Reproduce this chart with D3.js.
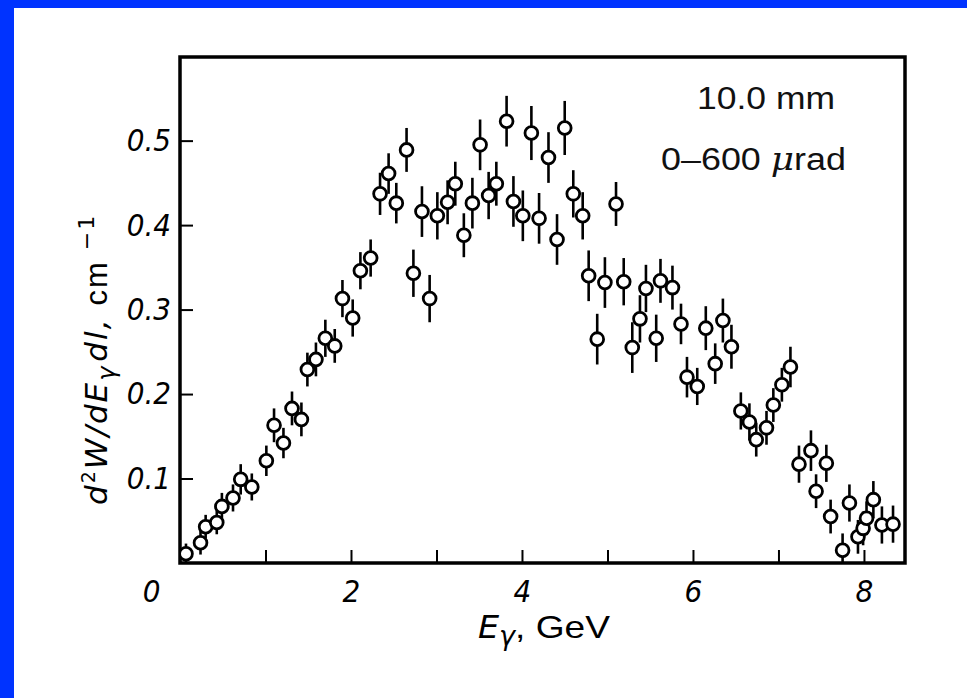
<!DOCTYPE html>
<html>
<head>
<meta charset="utf-8">
<script src="https://cdn.jsdelivr.net/npm/d3@7"></script>
<style>
  body { margin: 0; background: #fff; }
  svg { display: block; }
</style>
</head>
<body>
<svg class="chart" width="967" height="698"></svg>
<script>
// photon energy, GeV
var energy = [0.07,0.24,0.30,0.43,0.49,0.62,0.71,0.84,1.01,1.10,
  1.21,1.31,1.42,1.49,1.59,1.70,1.81,1.90,2.02,2.11,
  2.23,2.34,2.44,2.53,2.65,2.73,2.83,2.92,3.01,3.13,
  3.22,3.32,3.42,3.51,3.61,3.70,3.82,3.90,4.01,4.11,
  4.20,4.31,4.41,4.50,4.60,4.71,4.78,4.88,4.97,5.10,
  5.19,5.29,5.38,5.45,5.57,5.62,5.76,5.86,5.93,6.05,
  6.15,6.26,6.35,6.45,6.56,6.66,6.74,6.86,6.94,7.04,
  7.14,7.24,7.38,7.44,7.56,7.61,7.75,7.83,7.93,7.99,
  8.03,8.11,8.21,8.34];

// d2W/dE dl, cm^-1
var intensity = [0.011,0.024,0.043,0.048,0.067,0.077,0.099,0.090,0.121,0.163,
  0.142,0.183,0.170,0.229,0.241,0.266,0.257,0.313,0.290,0.346,
  0.361,0.437,0.461,0.426,0.489,0.343,0.416,0.313,0.411,0.427,
  0.449,0.388,0.426,0.495,0.435,0.449,0.523,0.428,0.411,0.509,
  0.408,0.480,0.383,0.515,0.437,0.411,0.340,0.265,0.332,0.425,
  0.333,0.255,0.289,0.325,0.266,0.334,0.326,0.283,0.220,0.209,
  0.278,0.236,0.287,0.256,0.180,0.167,0.146,0.160,0.187,0.211,
  0.232,0.117,0.133,0.085,0.118,0.055,0.015,0.071,0.031,0.041,
  0.053,0.075,0.045,0.046];

var errors = [0.012,0.014,0.014,0.014,0.016,0.016,0.018,0.016,0.018,0.020,
  0.018,0.020,0.020,0.020,0.020,0.022,0.020,0.022,0.022,0.022,
  0.022,0.025,0.024,0.024,0.026,0.028,0.030,0.028,0.028,0.026,
  0.026,0.026,0.030,0.030,0.028,0.026,0.030,0.030,0.030,0.032,
  0.030,0.030,0.030,0.032,0.028,0.028,0.030,0.030,0.030,0.026,
  0.028,0.030,0.028,0.028,0.028,0.026,0.026,0.024,0.024,0.022,
  0.026,0.024,0.026,0.026,0.022,0.022,0.020,0.020,0.020,0.020,
  0.024,0.022,0.024,0.020,0.022,0.020,0.020,0.022,0.020,0.020,
  0.020,0.022,0.022,0.022];

var xTicks = [0,1,2,3,4,5,6,7,8];
var xLabels = [0,2,4,6,8];
var yTicks = [0.1,0.2,0.3,0.4,0.5];

var points = energy.map(function(e, i) {
  return { x: e, y: intensity[i], err: errors[i] };
});

var svg = d3.select(".chart");

// blue frame of the slide
svg.append("rect").attr("x", 0).attr("y", 0).attr("width", 967).attr("height", 8).attr("fill", "#0033ff");
svg.append("rect").attr("x", 0).attr("y", 0).attr("width", 14).attr("height", 698).attr("fill", "#0033ff");

var plotLeft = 180, plotRight = 905, plotTop = 57, plotBottom = 563;

var x = d3.scaleLinear().domain([0, 8.48]).range([plotLeft, plotRight]);
var y = d3.scaleLinear().domain([0, 0.599]).range([plotBottom, plotTop]);

var tickFont = "'DejaVu Sans Condensed', 'DejaVu Sans', sans-serif";

// x axis, ticks pointing inward
var xAxis = svg.append("g")
  .attr("transform", "translate(0," + plotBottom + ")")
  .call(d3.axisBottom(x).tickValues(xTicks).tickSize(-13).tickPadding(17)
    .tickFormat(function(d) { return xLabels.indexOf(d) >= 0 ? d : ""; }));
xAxis.select(".domain").remove();
xAxis.selectAll(".tick line").attr("stroke", "#000").attr("stroke-width", 2);
xAxis.selectAll(".tick text")
  .attr("font-family", tickFont).attr("font-style", "italic")
  .attr("font-size", 31).attr("fill", "#000")
  .attr("dx", function(d) { return d === 0 ? -29 : 0; });

var yAxis = svg.append("g")
  .attr("transform", "translate(" + plotLeft + ",0)")
  .call(d3.axisLeft(y).tickValues(yTicks).tickSize(-13).tickPadding(9)
    .tickFormat(d3.format(".1f")));
yAxis.select(".domain").remove();
yAxis.selectAll(".tick line").attr("stroke", "#000").attr("stroke-width", 2);
yAxis.selectAll(".tick text")
  .attr("font-family", tickFont).attr("font-style", "italic")
  .attr("font-size", 31).attr("fill", "#000");

// plot frame
svg.append("rect")
  .attr("x", plotLeft).attr("y", plotTop)
  .attr("width", plotRight - plotLeft).attr("height", plotBottom - plotTop)
  .attr("fill", "none").attr("stroke", "#000").attr("stroke-width", 3.5);

svg.append("clipPath").attr("id", "plot")
  .append("rect").attr("x", plotLeft).attr("y", plotTop)
  .attr("width", plotRight - plotLeft).attr("height", plotBottom - plotTop);

var marks = svg.append("g").attr("clip-path", "url(#plot)");

marks.selectAll("line.err")
  .data(points)
  .enter().append("line")
    .attr("class", "err")
    .attr("x1", function(d) { return x(d.x); })
    .attr("x2", function(d) { return x(d.x); })
    .attr("y1", function(d) { return y(d.y - d.err); })
    .attr("y2", function(d) { return y(d.y + d.err); })
    .attr("stroke", "#000").attr("stroke-width", 2.6);

marks.selectAll("circle")
  .data(points)
  .enter().append("circle")
    .attr("cx", function(d) { return x(d.x); })
    .attr("cy", function(d) { return y(d.y); })
    .attr("r", 6.4)
    .attr("fill", "#fff").attr("stroke", "#000").attr("stroke-width", 2.8);

// annotation
var note = svg.append("g")
  .attr("font-family", "'Liberation Sans', Arial, sans-serif")
  .attr("font-size", 31).attr("fill", "#111");
note.append("text").attr("x", 697).attr("y", 109)
  .attr("textLength", 138).attr("lengthAdjust", "spacingAndGlyphs").text("10.0 mm");
var n2 = note.append("text").attr("x", 661).attr("y", 170)
  .attr("textLength", 185).attr("lengthAdjust", "spacingAndGlyphs");
n2.append("tspan").text("0–600 ");
n2.append("tspan").attr("font-style", "italic").attr("font-family", "'DejaVu Serif', serif").text("μ");
n2.append("tspan").text("rad");

// x title
var xt = svg.append("text")
  .attr("x", 478).attr("y", 638)
  .attr("textLength", 132).attr("lengthAdjust", "spacingAndGlyphs")
  .attr("font-family", tickFont).attr("font-size", 32).attr("fill", "#000");
xt.append("tspan").attr("font-style", "italic").text("E");
xt.append("tspan").attr("font-style", "italic").attr("font-size", 26).attr("dy", 7).text("γ");
xt.append("tspan").attr("dy", -7).attr("font-family", "'Liberation Sans Narrow', 'Liberation Sans', sans-serif").text(", GeV");

// y title, rotated, reads bottom to top
var yt = svg.append("text")
  .attr("transform", "translate(107,505) rotate(-90)")
  .attr("font-family", "'DejaVu Sans', sans-serif").attr("font-size", 31)
  .attr("letter-spacing", 2).attr("fill", "#000");
yt.append("tspan").attr("font-style", "italic").text("d");
yt.append("tspan").attr("font-size", 19).attr("dy", -12).text("2");
yt.append("tspan").attr("font-style", "italic").attr("dy", 12).text("W/dE");
yt.append("tspan").attr("font-style", "italic").attr("font-size", 24).attr("dy", 8).text("γ");
yt.append("tspan").attr("font-style", "italic").attr("dy", -8).attr("dx", 3).text("dl,");
yt.append("tspan").attr("font-family", "'Liberation Sans', sans-serif").attr("dx", 12).text("cm");
yt.append("tspan").attr("font-size", 22).attr("dy", -13).attr("dx", 10).text("−1");
</script>
</body>
</html>
